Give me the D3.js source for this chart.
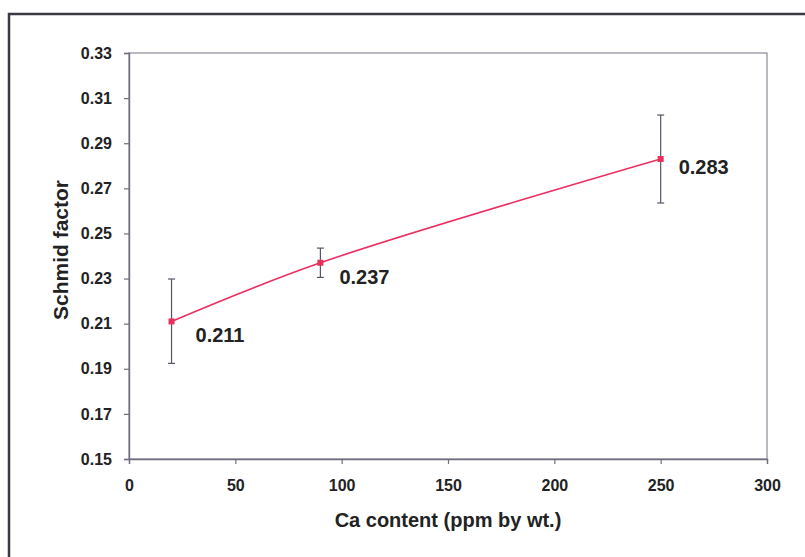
<!DOCTYPE html>
<html>
<head>
<meta charset="utf-8">
<script src="https://cdn.jsdelivr.net/npm/d3@7"></script>
<style>
  html, body { margin: 0; padding: 0; background: #ffffff; }
  svg { display: block; font-family: Arial, "Liberation Sans", sans-serif; }
</style>
</head>
<body>
<svg id="chart" width="805" height="557"></svg>
<script>
// Schmid factor vs. Ca content
const caContent = [20, 90, 250];
const schmid = [0.211, 0.237, 0.283];
const errLow = [0.0186, 0.0065, 0.0195];
const errHigh = [0.0188, 0.0065, 0.0195];
const xTicks = [0, 50, 100, 150, 200, 250, 300];
const yTicks = [0.15, 0.17, 0.19, 0.21, 0.23, 0.25, 0.27, 0.29, 0.31, 0.33];

const svg = d3.select("#chart");
const plot = { left: 129, top: 53, right: 767, bottom: 459 };

const x = d3.scaleLinear().domain([0, 300]).range([plot.left, plot.right]);
const y = d3.scaleLinear().domain([0.15, 0.33]).range([plot.bottom, plot.top]);

// outer frame
svg.append("rect")
  .attr("x", 9).attr("y", 14).attr("width", 820).attr("height", 580)
  .attr("fill", "none").attr("stroke", "#3a3a44").attr("stroke-width", 2.5);

// plot area border
svg.append("rect")
  .attr("x", plot.left).attr("y", plot.top)
  .attr("width", plot.right - plot.left).attr("height", plot.bottom - plot.top)
  .attr("fill", "none").attr("stroke", "#8a8a98").attr("stroke-width", 1.2);

// y axis
const yAxis = svg.append("g")
  .attr("transform", `translate(${plot.left},0)`)
  .call(d3.axisLeft(y).tickValues(yTicks).tickFormat(d3.format(".2f")).tickSize(5).tickPadding(12));
// x axis
const xAxis = svg.append("g")
  .attr("transform", `translate(0,${plot.bottom})`)
  .call(d3.axisBottom(x).tickValues(xTicks).tickFormat(d3.format("d")).tickSize(5).tickPadding(16));

[yAxis, xAxis].forEach(g => {
  g.select(".domain").attr("stroke", "#6e6e80").attr("stroke-width", 1.4);
  g.selectAll(".tick line").attr("stroke", "#6e6e80").attr("stroke-width", 1.2);
  g.selectAll(".tick text")
    .attr("fill", "#222").attr("font-size", 16).attr("font-weight", "bold")
    .attr("font-family", "Arial, 'Liberation Sans', sans-serif");
});

// axis titles
svg.append("text")
  .attr("x", (plot.left + plot.right) / 2).attr("y", 527)
  .attr("text-anchor", "middle").attr("font-size", 20).attr("font-weight", "bold").attr("fill", "#222")
  .text("Ca content (ppm by wt.)");
svg.append("text")
  .attr("transform", `translate(68,${(plot.top + plot.bottom) / 2 - 6}) rotate(-90)`)
  .attr("text-anchor", "middle").attr("font-size", 21).attr("font-weight", "bold").attr("fill", "#222")
  .text("Schmid factor");

const pts = caContent.map((c, i) => ({ c, v: schmid[i], lo: errLow[i], hi: errHigh[i] }));

// error bars
const eb = svg.append("g").attr("stroke", "#555566").attr("stroke-width", 1.2);
pts.forEach(p => {
  const cx = x(p.c);
  eb.append("line").attr("x1", cx).attr("x2", cx).attr("y1", y(p.v + p.hi)).attr("y2", y(p.v - p.lo));
  [p.v + p.hi, p.v - p.lo].forEach(v => {
    eb.append("line").attr("x1", cx - 3.5).attr("x2", cx + 3.5).attr("y1", y(v)).attr("y2", y(v));
  });
});

// smoothed line
svg.append("path")
  .datum(pts)
  .attr("fill", "none").attr("stroke", "#ec2f62").attr("stroke-width", 1.6)
  .attr("d", d3.line().x(d => x(d.c)).y(d => y(d.v)).curve(d3.curveCatmullRom.alpha(0.5)));

// markers
svg.append("g").selectAll("rect").data(pts).join("rect")
  .attr("x", d => x(d.c) - 3).attr("y", d => y(d.v) - 3)
  .attr("width", 6).attr("height", 6).attr("fill", "#e8305a");

// value labels
const labelOffset = [[24, 21], [19, 21], [18, 15]];
svg.append("g").selectAll("text").data(pts).join("text")
  .attr("x", (d, i) => x(d.c) + labelOffset[i][0])
  .attr("y", (d, i) => y(d.v) + labelOffset[i][1])
  .attr("font-size", 20).attr("font-weight", "bold").attr("fill", "#222")
  .text(d => d.v.toFixed(3));
</script>
</body>
</html>
